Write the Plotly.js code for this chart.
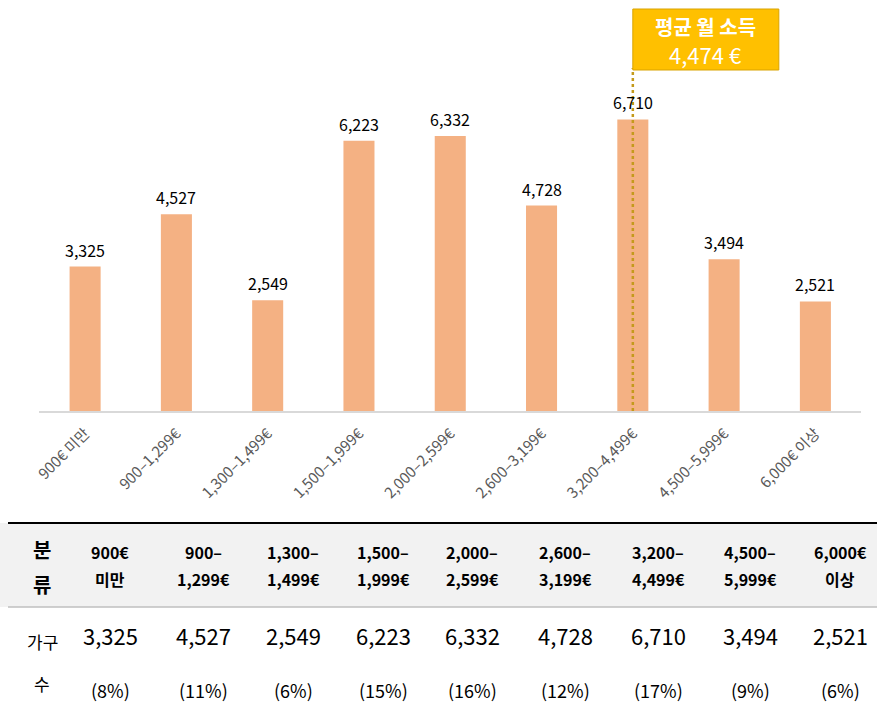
<!DOCTYPE html>
<html>
<head>
<meta charset="utf-8">
<script src="https://cdn.plot.ly/plotly-3.0.1.min.js"></script>
<style>html,body{margin:0;padding:0;background:#fff;}#chart{width:877px;height:712px;}</style>
</head>
<body>
<div id="chart"></div>
<script>
// ---- data ----
const categories = ["900€ 미만", "900–1,299€", "1,300–1,499€", "1,500–1,999€", "2,000–2,599€", "2,600–3,199€", "3,200–4,499€", "4,500–5,999€", "6,000€ 이상"];
const headerLine1 = ["900€", "900–", "1,300–", "1,500–", "2,000–", "2,600–", "3,200–", "4,500–", "6,000€"];
const headerLine2 = ["미만", "1,299€", "1,499€", "1,999€", "2,599€", "3,199€", "4,499€", "5,999€", "이상"];
const households = [3325, 4527, 2549, 6223, 6332, 4728, 6710, 3494, 2521];
const shares = [8, 11, 6, 15, 16, 12, 17, 9, 6];
const meanIncome = 4474;
const meanTitle = "평균 월 소득";
const meanCategory = "3,200–4,499€";
const rowLabelHeader = ["분", "류"];
const rowLabelCells = ["가구", "수"];

// ---- layout constants (pixels) ----
const W = 877, H = 712;
const colCenters = [110, 203, 293, 383, 472, 565, 658, 750, 840];
const labelCenter = 42;
const py = p => 1 - p / H;
const px = p => p / W;

const FONT = "Noto Sans CJK KR, Noto Sans, sans-serif";
const fmt = v => v.toLocaleString("en-US");

const bars = {
  type: "bar",
  x: categories,
  y: households,
  marker: {color: "#F4B183"},
  hoverinfo: "skip"
};

const valueLabels = households.map((v, i) => ({
  x: categories[i], y: v, xref: "x", yref: "y",
  text: fmt(v), showarrow: false, yanchor: "bottom", yshift: 3,
  font: {family: FONT, size: 16, color: "#000"}
}));

const meanTexts = [
  {x: meanCategory, xref: "x", xshift: 73, xanchor: "center",
   y: py(26), yref: "paper", yanchor: "middle", showarrow: false,
   text: "<b>" + meanTitle + "</b>",
   font: {family: FONT, size: 20, color: "#FFFFFF"}},
  {x: meanCategory, xref: "x", xshift: 73, xanchor: "center",
   y: py(54), yref: "paper", yanchor: "middle", showarrow: false,
   text: fmt(meanIncome) + " €",
   font: {family: FONT, size: 22, color: "#FFFFFF"}}
];

function cell(x, y, text, size, bold) {
  return {
    xref: "paper", yref: "paper", x: px(x), y: py(y),
    xanchor: "center", yanchor: "middle", showarrow: false,
    text: bold ? "<b>" + text + "</b>" : text,
    font: {family: FONT, size: size, color: "#000"}
  };
}

const tableCells = [];
tableCells.push(cell(labelCenter, 549, rowLabelHeader[0], 20, true));
tableCells.push(cell(labelCenter, 584, rowLabelHeader[1], 20, true));
tableCells.push(cell(labelCenter, 641, rowLabelCells[0], 17, false));
tableCells.push(cell(labelCenter, 683, rowLabelCells[1], 17, false));
categories.forEach((c, i) => {
  tableCells.push(cell(colCenters[i], 552, headerLine1[i], 16, true));
  tableCells.push(cell(colCenters[i], 579, headerLine2[i], 16, true));
  tableCells.push(cell(colCenters[i], 635, fmt(households[i]), 22, false));
  tableCells.push(cell(colCenters[i], 690, "(" + shares[i] + "%)", 18, false));
});

const layout = {
  width: W, height: H,
  margin: {l: 0, r: 0, t: 0, b: 0},
  paper_bgcolor: "#FFFFFF", plot_bgcolor: "#FFFFFF",
  showlegend: false,
  bargap: 0.66,
  xaxis: {
    domain: [0.045, 0.9818],
    type: "category",
    tickangle: -45,
    ticklabelstandoff: 6,
    tickfont: {family: FONT, size: 15, color: "#595959"},
    showline: true, linecolor: "#D9D9D9", linewidth: 2,
    showgrid: false, ticks: "", zeroline: false
  },
  yaxis: {
    domain: [py(411), 1],
    range: [0, 9460],
    visible: false
  },
  shapes: [
    {type: "rect", xref: "paper", yref: "paper", x0: 0, x1: 1, y0: py(607), y1: py(523),
     fillcolor: "#F2F2F2", line: {width: 0}, layer: "below"},
    {type: "line", xref: "x", yref: "paper", x0: meanCategory, x1: meanCategory,
     y0: py(411), y1: py(68), line: {color: "#C49A1C", width: 2.5, dash: "dot"}},
    {type: "rect", xref: "x", xsizemode: "pixel", xanchor: meanCategory, x0: 0, x1: 146,
     yref: "paper", y0: py(70), y1: py(9),
     fillcolor: "#FFC000", line: {color: "#D9A300", width: 1}},
    {type: "line", xref: "paper", yref: "paper", x0: px(8), x1: 1, y0: py(523), y1: py(523),
     line: {color: "#000000", width: 2}},
    {type: "line", xref: "paper", yref: "paper", x0: px(8), x1: 1, y0: py(607), y1: py(607),
     line: {color: "#BFBFBF", width: 1.5}}
  ],
  annotations: valueLabels.concat(meanTexts, tableCells)
};

Plotly.newPlot("chart", [bars], layout, {displayModeBar: false, staticPlot: true});
</script>
</body>
</html>
